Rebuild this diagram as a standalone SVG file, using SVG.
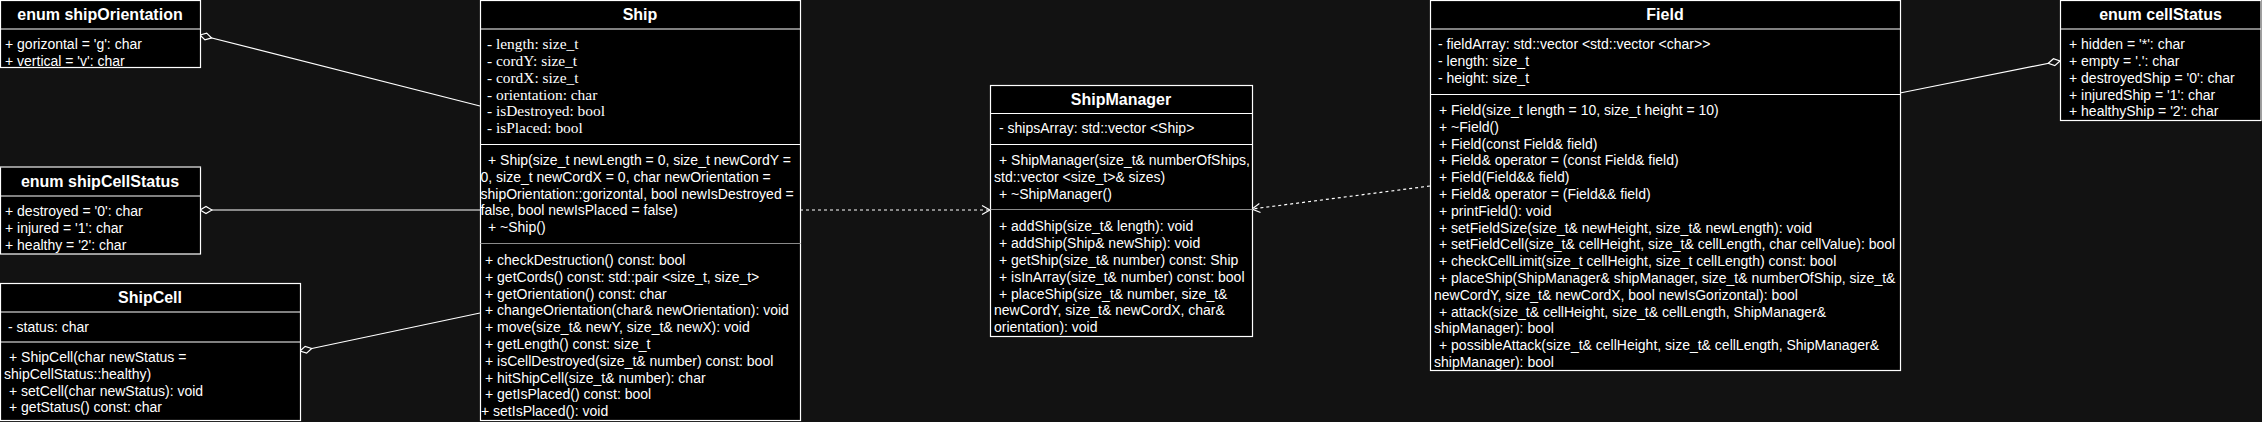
<svg xmlns="http://www.w3.org/2000/svg" width="2262" height="422" viewBox="0 0 2262 422">
<style>
.box{fill:#000;stroke:#fff;stroke-width:1.2}
.div{stroke:#fff;stroke-width:1.2}
.gdiv{stroke:#8a8a8a;stroke-width:1.2}
.t{font-family:"Liberation Sans",Arial,sans-serif;font-size:14px;fill:#fff}
.s{font-family:"Liberation Serif","Times New Roman",serif;font-size:15.4px;fill:#fff}
.h{font-family:"Liberation Sans",Arial,sans-serif;font-size:16px;font-weight:bold;fill:#fff;text-anchor:middle}
.ln{stroke:#fff;stroke-width:1.2;fill:none}
.dash{stroke:#fff;stroke-width:1.2;fill:none;stroke-dasharray:3 3}
</style>
<defs>
<marker id="dia" markerUnits="userSpaceOnUse" markerWidth="14" markerHeight="10" viewBox="-1 -5 14 10" refX="0" refY="0" orient="auto">
<path d="M0,0 L6,-3.5 L12,0 L6,3.5 Z" fill="#121212" stroke="#fff" stroke-width="1.2"/>
</marker>
<marker id="arr" markerUnits="userSpaceOnUse" markerWidth="12" markerHeight="12" viewBox="-10 -6 12 12" refX="0" refY="0" orient="auto">
<path d="M-8,-4.5 L0,0 L-8,4.5" fill="none" stroke="#fff" stroke-width="1.2"/>
</marker>
</defs>
<rect width="2262" height="422" fill="#121212"/>

<g id="connectors">
<line class="ln" x1="200" y1="35" x2="480" y2="106" marker-start="url(#dia)"/>
<line class="ln" x1="200" y1="210" x2="480" y2="210" marker-start="url(#dia)"/>
<line class="ln" x1="300" y1="351" x2="480" y2="313" marker-start="url(#dia)"/>
<line class="dash" x1="800" y1="210" x2="990" y2="210" marker-end="url(#arr)"/>
<line class="dash" x1="1430" y1="186" x2="1252" y2="209" marker-end="url(#arr)"/>
<line class="ln" x1="2060" y1="61" x2="1900" y2="93" marker-start="url(#dia)"/>
</g>

<g id="shipOrientation">
<rect class="box" x="0.5" y="0.5" width="200" height="67"/>
<line class="div" x1="0.5" y1="29" x2="200.5" y2="29"/>
<text class="h" x="100" y="20">enum shipOrientation</text>
<text class="t" x="5" y="49">+ gorizontal = 'g': char</text>
<text class="t" x="5" y="66">+ vertical = 'v': char</text>
</g>

<g id="shipCellStatus">
<rect class="box" x="0.5" y="167" width="200" height="87"/>
<line class="gdiv" x1="0.5" y1="167" x2="200.5" y2="167"/>
<line class="div" x1="0.5" y1="196" x2="200.5" y2="196"/>
<text class="h" x="100" y="186.5">enum shipCellStatus</text>
<text class="t" x="5" y="216">+ destroyed = '0': char</text>
<text class="t" x="5" y="233">+ injured = '1': char</text>
<text class="t" x="5" y="250">+ healthy = '2': char</text>
</g>

<g id="ShipCell">
<rect class="box" x="0.5" y="283.5" width="300" height="137"/>
<line class="div" x1="0.5" y1="312" x2="300.5" y2="312"/>
<line class="div" x1="0.5" y1="342" x2="300.5" y2="342"/>
<text class="h" x="150" y="303">ShipCell</text>
<text class="t" x="8" y="332">- status: char</text>
<text class="t" x="9" y="362">+ ShipCell(char newStatus =</text>
<text class="t" x="4" y="379">shipCellStatus::healthy)</text>
<text class="t" x="9" y="395.6">+ setCell(char newStatus): void</text>
<text class="t" x="9" y="412.4">+ getStatus() const: char</text>
</g>

<g id="Ship">
<rect class="box" x="480.5" y="0.5" width="320" height="420"/>
<line class="div" x1="480.5" y1="29" x2="800.5" y2="29"/>
<line class="div" x1="480.5" y1="144.5" x2="800.5" y2="144.5"/>
<line class="gdiv" x1="480.5" y1="243.5" x2="800.5" y2="243.5"/>
<text class="h" x="640" y="20">Ship</text>
<text class="s" x="487" y="49">- length: size_t</text>
<text class="s" x="487" y="66">- cordY: size_t</text>
<text class="s" x="487" y="83">- cordX: size_t</text>
<text class="s" x="487" y="99.5">- orientation: char</text>
<text class="s" x="487" y="116">- isDestroyed: bool</text>
<text class="s" x="487" y="133">- isPlaced: bool</text>
<text class="t" x="488" y="165">+ Ship(size_t newLength = 0, size_t newCordY =</text>
<text class="t" x="480.5" y="182">0, size_t newCordX = 0, char newOrientation =</text>
<text class="t" x="480.5" y="198.5">shipOrientation::gorizontal, bool newIsDestroyed =</text>
<text class="t" x="480.5" y="215">false, bool newIsPlaced = false)</text>
<text class="t" x="488" y="232">+ ~Ship()</text>
<text class="t" x="485" y="265">+ checkDestruction() const: bool</text>
<text class="t" x="485" y="281.8">+ getCords() const: std::pair &lt;size_t, size_t&gt;</text>
<text class="t" x="485" y="298.6">+ getOrientation() const: char</text>
<text class="t" x="485" y="315.4">+ changeOrientation(char&amp; newOrientation): void</text>
<text class="t" x="485" y="332.2">+ move(size_t&amp; newY, size_t&amp; newX): void</text>
<text class="t" x="485" y="349">+ getLength() const: size_t</text>
<text class="t" x="485" y="365.8">+ isCellDestroyed(size_t&amp; number) const: bool</text>
<text class="t" x="485" y="382.6">+ hitShipCell(size_t&amp; number): char</text>
<text class="t" x="485" y="399.4">+ getIsPlaced() const: bool</text>
<text class="t" x="481" y="416.2">+ setIsPlaced(): void</text>
</g>

<g id="ShipManager">
<rect class="box" x="990.5" y="85.5" width="262" height="251"/>
<line class="div" x1="990.5" y1="113.5" x2="1252.5" y2="113.5"/>
<line class="div" x1="990.5" y1="144.5" x2="1252.5" y2="144.5"/>
<line class="gdiv" x1="990.5" y1="209.5" x2="1252.5" y2="209.5"/>
<text class="h" x="1121" y="105">ShipManager</text>
<text class="t" x="999" y="133">- shipsArray: std::vector &lt;Ship&gt;</text>
<text class="t" x="999" y="165">+ ShipManager(size_t&amp; numberOfShips,</text>
<text class="t" x="994" y="182">std::vector &lt;size_t&gt;&amp; sizes)</text>
<text class="t" x="999" y="198.5">+ ~ShipManager()</text>
<text class="t" x="999" y="231">+ addShip(size_t&amp; length): void</text>
<text class="t" x="999" y="248">+ addShip(Ship&amp; newShip): void</text>
<text class="t" x="999" y="265">+ getShip(size_t&amp; number) const: Ship</text>
<text class="t" x="999" y="281.5">+ isInArray(size_t&amp; number) const: bool</text>
<text class="t" x="999" y="298.5">+ placeShip(size_t&amp; number, size_t&amp;</text>
<text class="t" x="994" y="315">newCordY, size_t&amp; newCordX, char&amp;</text>
<text class="t" x="994" y="332">orientation): void</text>
</g>

<g id="Field">
<rect class="box" x="1430.5" y="0.5" width="470" height="370"/>
<line class="div" x1="1430.5" y1="29" x2="1900.5" y2="29"/>
<line class="div" x1="1430.5" y1="94.5" x2="1900.5" y2="94.5"/>
<text class="h" x="1665" y="20">Field</text>
<text class="t" x="1438" y="49">- fieldArray: std::vector &lt;std::vector &lt;char&gt;&gt;</text>
<text class="t" x="1438" y="66">- length: size_t</text>
<text class="t" x="1438" y="83">- height: size_t</text>
<text class="t" x="1439" y="115">+ Field(size_t length = 10, size_t height = 10)</text>
<text class="t" x="1439" y="131.8">+ ~Field()</text>
<text class="t" x="1439" y="148.6">+ Field(const Field&amp; field)</text>
<text class="t" x="1439" y="165.4">+ Field&amp; operator = (const Field&amp; field)</text>
<text class="t" x="1439" y="182.2">+ Field(Field&amp;&amp; field)</text>
<text class="t" x="1439" y="199">+ Field&amp; operator = (Field&amp;&amp; field)</text>
<text class="t" x="1439" y="215.8">+ printField(): void</text>
<text class="t" x="1439" y="232.6">+ setFieldSize(size_t&amp; newHeight, size_t&amp; newLength): void</text>
<text class="t" x="1439" y="249.4">+ setFieldCell(size_t&amp; cellHeight, size_t&amp; cellLength, char cellValue): bool</text>
<text class="t" x="1439" y="266.2">+ checkCellLimit(size_t cellHeight, size_t cellLength) const: bool</text>
<text class="t" x="1439" y="283">+ placeShip(ShipManager&amp; shipManager, size_t&amp; numberOfShip, size_t&amp;</text>
<text class="t" x="1434" y="299.8">newCordY, size_t&amp; newCordX, bool newIsGorizontal): bool</text>
<text class="t" x="1439" y="316.6">+ attack(size_t&amp; cellHeight, size_t&amp; cellLength, ShipManager&amp;</text>
<text class="t" x="1434" y="333.4">shipManager): bool</text>
<text class="t" x="1439" y="350.2">+ possibleAttack(size_t&amp; cellHeight, size_t&amp; cellLength, ShipManager&amp;</text>
<text class="t" x="1434" y="367">shipManager): bool</text>
</g>

<g id="cellStatus">
<rect class="box" x="2060.5" y="0.5" width="200.5" height="120"/>
<line class="div" x1="2060.5" y1="29" x2="2261" y2="29"/>
<text class="h" x="2160.5" y="20">enum cellStatus</text>
<text class="t" x="2069" y="49">+ hidden = '*': char</text>
<text class="t" x="2069" y="66">+ empty = '.': char</text>
<text class="t" x="2069" y="83">+ destroyedShip = '0': char</text>
<text class="t" x="2069" y="99.6">+ injuredShip = '1': char</text>
<text class="t" x="2069" y="116">+ healthyShip = '2': char</text>
</g>
</svg>
